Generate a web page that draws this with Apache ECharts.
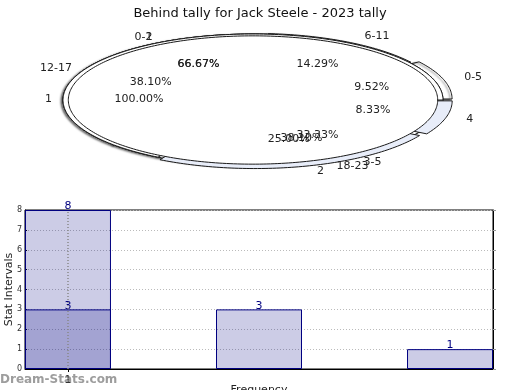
<!DOCTYPE html>
<html><head><meta charset="utf-8">
<script src="https://cdn.jsdelivr.net/npm/echarts@6/dist/echarts.min.js"></script>
<style>html,body{margin:0;padding:0;background:#fff}#c{width:520px;height:390px}</style>
</head><body><div id="c"></div>
<script>
// ---------- data ----------
const chartTitle = 'Behind tally for Jack Steele - 2023 tally';
// pie rings (drawn bottom -> top)
const ringQuarterLabels = ['0-5', '6-11', '12-17', '18-23'];
const ringQuarterValues = [2, 3, 8, 8];
const ringHalfLabels = ['0-2', '3-5'];
const ringHalfValues = [2, 1];
const ringCountLabels = ['1', '2', '4'];
const ringCountValues = [8, 3, 1];
const ringTotalLabels = ['1'];
const ringTotalValues = [1];
// bar chart
const barPositions = [1, 2, 3];
const barValues = [8, 3, 1];
const overlayPositions = [1];
const overlayValues = [3];
const xTickValues = [1];
const xTickLabels = ['1'];
const yTickValues = [0, 1, 2, 3, 4, 5, 6, 7, 8];

// ---------- styling / layout ----------
const FONT = 'DejaVu Sans';
const CX = 253, CY = 100, RX = 190, RY = 66;      // ellipse geometry (px)
const LCX = 258, LCY = 99.5, LRX = 201, LRY = 72;  // outer label ellipse
const PRX = 119, PRY = 41;                         // percent label ellipse
const rings = [
  {labels: ringQuarterLabels, values: ringQuarterValues, r: 1, fill: ['#fff','#fff','#fff','#fff'], explode: [0.05, 0.01, 0, 0], shadow: true},
  {labels: ringHalfLabels, values: ringHalfValues, r: 1, fill: ['#fff','#fff'], explode: [0, 0], shadow: false},
  {labels: ringCountLabels, values: ringCountValues, r: 1, fill: ['#fff','#e8edf9','#e8edf9'], explode: [0, 0.04, 0.05], shadow: false},
  {labels: ringTotalLabels, values: ringTotalValues, r: 0.972, fill: ['#fff'], explode: [0], shadow: false}
];

const slices = [];
rings.forEach((ring, ri) => {
  const total = ring.values.reduce((a, b) => a + b, 0);
  let acc = 0;
  ring.values.forEach((v, si) => {
    const a0 = acc / total * 2 * Math.PI;
    acc += v;
    const a1 = acc / total * 2 * Math.PI;
    slices.push({ri, si, a0, a1, label: ring.labels[si], pct: (v / total * 100).toFixed(2) + '%'});
  });
});

function renderSlice(params, api) {
  const s = slices[params.dataIndex];
  const ring = rings[s.ri];
  const ex = ring.explode[s.si];
  const mid = (s.a0 + s.a1) / 2;
  const ox = ex * Math.cos(mid), oy = ex * Math.sin(mid);
  const pts = [];
  const full = (s.a1 - s.a0) > 6.28;
  if (!full) pts.push(api.coord([ox, oy]));
  const n = Math.max(8, Math.ceil((s.a1 - s.a0) / 0.02));
  for (let k = 0; k <= n; k++) {
    const a = s.a0 + (s.a1 - s.a0) * k / n;
    pts.push(api.coord([ox + ring.r * Math.cos(a), oy + ring.r * Math.sin(a)]));
  }
  const style = {fill: ring.fill[s.si], stroke: '#1a1a1a', lineWidth: 1};
  if (ring.shadow) {
    style.shadowColor = 'rgba(0,0,0,0.55)';
    style.shadowBlur = 2;
    style.shadowOffsetX = -2;
    style.shadowOffsetY = 1;
  }
  return {type: 'polygon', shape: {points: pts}, style};
}

function renderLabel(params, api) {
  const s = slices[params.dataIndex];
  const ring = rings[s.ri];
  const ex = ring.explode[s.si];
  const mid = (s.a0 + s.a1) / 2;
  const c = Math.cos(mid), sn = Math.sin(mid);
  const exX = ex * RX * c, exY = ex * RY * sn;
  const lx = LCX + LRX * c + exX, ly = LCY - LRY * sn - exY;
  const p = api.coord([(lx - CX) / RX, (CY - ly) / RY]);
  const align = c > 0.01 ? 'left' : (c < -0.01 ? 'right' : 'center');
  const gap = align === 'left' ? 5 : (align === 'right' ? -5 : 0);
  const px = LCX + PRX * c, py = LCY - PRY * sn;
  const q = api.coord([(px - CX) / RX, (CY - py) / RY]);
  return {
    type: 'group',
    children: [
      {type: 'text', x: p[0] + gap, y: p[1], style: {text: s.label, align, verticalAlign: 'middle', fill: '#222', font: '11px "' + FONT + '"'}},
      {type: 'text', x: q[0], y: q[1], style: {text: s.pct, align: 'center', verticalAlign: 'middle', fill: '#222', font: '11px "' + FONT + '"'}}
    ]
  };
}

const chart = echarts.init(document.getElementById('c'), null, {renderer: 'canvas'});
chart.setOption({
  animation: false,
  backgroundColor: '#fff',
  textStyle: {fontFamily: FONT},
  title: {text: chartTitle, left: 'center', top: 2, textStyle: {fontSize: 13, fontWeight: 'normal', color: '#111', fontFamily: FONT}},
  graphic: [{type: 'text', left: 0, top: 374, style: {text: 'Dream-Stats.com', fill: 'rgba(140,140,140,0.85)', font: 'bold 12px "' + FONT + '"'}}],
  grid: [
    {left: 25, right: 27, top: 210, bottom: 21, show: true, borderColor: '#000', borderWidth: 1, backgroundColor: 'transparent', containLabel: false, outerBoundsMode: 'none'},
    {left: CX - RX, width: 2 * RX, top: CY - RY, height: 2 * RY, show: false, containLabel: false, outerBoundsMode: 'none'}
  ],
  xAxis: [
    {type: 'value', gridIndex: 0, min: 0.775, max: 3.225,
     name: 'Frequency', nameLocation: 'middle', nameGap: 16, nameMoveOverlap: false, nameTextStyle: {fontSize: 11, color: '#222'},
     axisLine: {show: true, lineStyle: {color: '#000'}},
     axisTick: {show: true, customValues: xTickValues, length: 3, lineStyle: {color: '#000'}},
     axisLabel: {show: true, customValues: xTickValues, fontSize: 10, color: '#333', margin: 6,
       formatter: v => xTickLabels[xTickValues.indexOf(v)]},
     splitLine: {show: false}},
    {type: 'value', gridIndex: 1, min: -1, max: 1, show: false}
  ],
  yAxis: [
    {type: 'value', gridIndex: 0, min: 0, max: 8, interval: 1,
     name: 'Stat Intervals', nameLocation: 'middle', nameGap: 10, nameMoveOverlap: false, nameTextStyle: {fontSize: 11, color: '#222'},
     axisLine: {show: true, lineStyle: {color: '#000'}},
     axisTick: {show: true, length: 2, inside: true, lineStyle: {color: '#000'}},
     axisLabel: {fontSize: 8, color: '#333', margin: 3, formatter: v => yTickValues.includes(v) ? String(v) : ''},
     splitLine: {show: true, lineStyle: {color: '#bbb', type: [1, 2], width: 1}}},
    {type: 'value', gridIndex: 0, min: 0, max: 8, interval: 1, position: 'right',
     axisLine: {show: true, lineStyle: {color: '#000'}},
     axisTick: {show: true, length: 3, lineStyle: {color: '#999'}},
     axisLabel: {show: false}, splitLine: {show: false}},
    {type: 'value', gridIndex: 1, min: -1, max: 1, show: false}
  ],
  series: [
    {type: 'bar', xAxisIndex: 0, yAxisIndex: 0, barWidth: 86, barGap: '-100%',
     data: barPositions.map((x, i) => [x, barValues[i]]),
     itemStyle: {color: 'rgba(0,0,128,0.2)', borderColor: '#000080', borderWidth: 1},
     label: {show: true, position: 'top', distance: -2, color: '#000080', fontSize: 11},
     markLine: {silent: true, symbol: 'none', label: {show: false},
       lineStyle: {color: '#888', type: [1, 2], width: 1.5},
       data: xTickValues.map(v => ({xAxis: v}))}},
    {type: 'bar', xAxisIndex: 0, yAxisIndex: 0, barWidth: 86, barGap: '-100%',
     data: overlayPositions.map((x, i) => [x, overlayValues[i]]),
     itemStyle: {color: 'rgba(0,0,128,0.2)', borderColor: '#000080', borderWidth: 1},
     label: {show: true, position: 'top', distance: -2, color: '#000080', fontSize: 11}},
    {type: 'custom', xAxisIndex: 1, yAxisIndex: 2, renderItem: renderSlice,
     data: slices.map((s, i) => [i]), clip: false, z: 3},
    {type: 'custom', xAxisIndex: 1, yAxisIndex: 2, renderItem: renderLabel,
     data: slices.map((s, i) => [i]), clip: false, z: 5}
  ]
});
</script>
</body></html>
